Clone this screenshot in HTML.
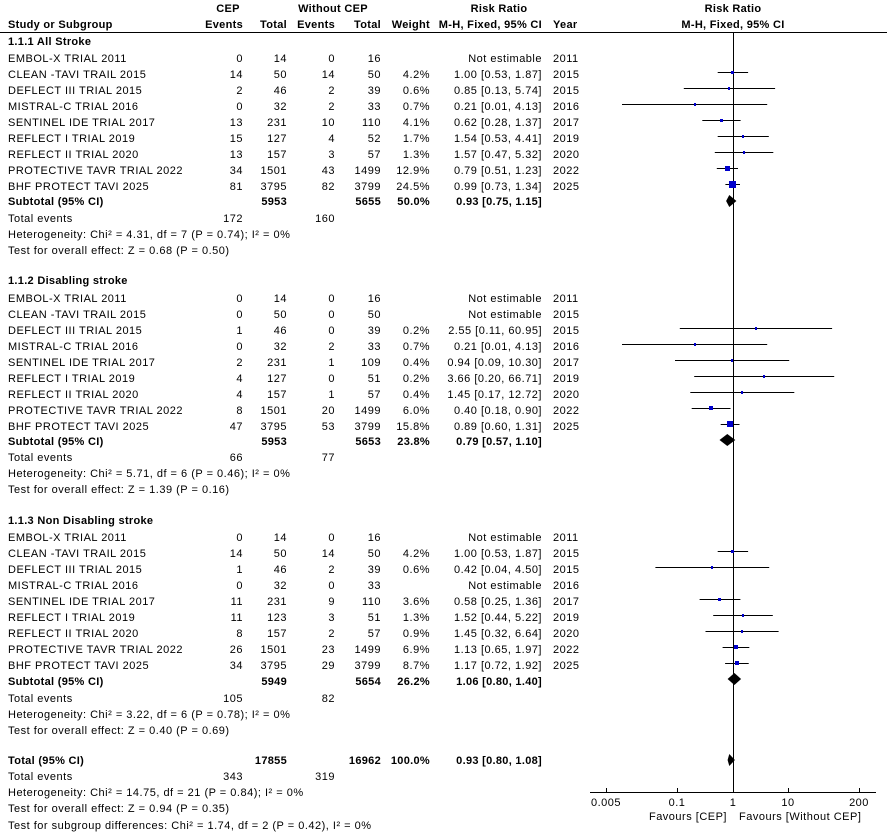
<!DOCTYPE html>
<html><head><meta charset="utf-8"><style>
html,body{margin:0;padding:0;background:#fff;}
svg{display:block;}
text{font-family:"Liberation Sans",Arial,sans-serif;font-size:11px;fill:#000;letter-spacing:0.5px;}
.b{font-weight:bold;letter-spacing:0.3px;}
.e{text-anchor:end;}
.m{text-anchor:middle;}
</style></head><body>
<svg width="887" height="832" viewBox="0 0 887 832" xmlns="http://www.w3.org/2000/svg">
<!-- headers -->
<text class="b m" x="228" y="12">CEP</text>
<text class="b m" x="333" y="12">Without CEP</text>
<text class="b m" x="499" y="12">Risk Ratio</text>
<text class="b m" x="733" y="12">Risk Ratio</text>
<text class="b" x="8" y="28">Study or Subgroup</text>
<text class="b e" x="243" y="28">Events</text>
<text class="b e" x="287" y="28">Total</text>
<text class="b e" x="335" y="28">Events</text>
<text class="b e" x="381" y="28">Total</text>
<text class="b e" x="430" y="28">Weight</text>
<text class="b e" x="542" y="28">M-H, Fixed, 95% CI</text>
<text class="b" x="553" y="28">Year</text>
<text class="b m" x="733" y="28">M-H, Fixed, 95% CI</text>
<line x1="0" y1="32.5" x2="887" y2="32.5" stroke="#000"/>
<line x1="733.5" y1="33" x2="733.5" y2="792" stroke="#000"/>

<!-- Section 1 -->
<text class="b" x="8" y="45">1.1.1 All Stroke</text>
<g>
<text x="8" y="62">EMBOL-X TRIAL 2011</text><text class="e" x="243" y="62">0</text><text class="e" x="287" y="62">14</text><text class="e" x="335" y="62">0</text><text class="e" x="381" y="62">16</text><text class="e" x="542" y="62">Not estimable</text><text x="553" y="62">2011</text>
<text x="8" y="78">CLEAN -TAVI TRAIL 2015</text><text class="e" x="243" y="78">14</text><text class="e" x="287" y="78">50</text><text class="e" x="335" y="78">14</text><text class="e" x="381" y="78">50</text><text class="e" x="430" y="78">4.2%</text><text class="e" x="542" y="78">1.00 [0.53, 1.87]</text><text x="553" y="78">2015</text>
<text x="8" y="94">DEFLECT III TRIAL 2015</text><text class="e" x="243" y="94">2</text><text class="e" x="287" y="94">46</text><text class="e" x="335" y="94">2</text><text class="e" x="381" y="94">39</text><text class="e" x="430" y="94">0.6%</text><text class="e" x="542" y="94">0.85 [0.13, 5.74]</text><text x="553" y="94">2015</text>
<text x="8" y="110">MISTRAL-C TRIAL 2016</text><text class="e" x="243" y="110">0</text><text class="e" x="287" y="110">32</text><text class="e" x="335" y="110">2</text><text class="e" x="381" y="110">33</text><text class="e" x="430" y="110">0.7%</text><text class="e" x="542" y="110">0.21 [0.01, 4.13]</text><text x="553" y="110">2016</text>
<text x="8" y="126">SENTINEL IDE TRIAL 2017</text><text class="e" x="243" y="126">13</text><text class="e" x="287" y="126">231</text><text class="e" x="335" y="126">10</text><text class="e" x="381" y="126">110</text><text class="e" x="430" y="126">4.1%</text><text class="e" x="542" y="126">0.62 [0.28, 1.37]</text><text x="553" y="126">2017</text>
<text x="8" y="142">REFLECT I TRIAL 2019</text><text class="e" x="243" y="142">15</text><text class="e" x="287" y="142">127</text><text class="e" x="335" y="142">4</text><text class="e" x="381" y="142">52</text><text class="e" x="430" y="142">1.7%</text><text class="e" x="542" y="142">1.54 [0.53, 4.41]</text><text x="553" y="142">2019</text>
<text x="8" y="158">REFLECT II TRIAL 2020</text><text class="e" x="243" y="158">13</text><text class="e" x="287" y="158">157</text><text class="e" x="335" y="158">3</text><text class="e" x="381" y="158">57</text><text class="e" x="430" y="158">1.3%</text><text class="e" x="542" y="158">1.57 [0.47, 5.32]</text><text x="553" y="158">2020</text>
<text x="8" y="174">PROTECTIVE TAVR TRIAL 2022</text><text class="e" x="243" y="174">34</text><text class="e" x="287" y="174">1501</text><text class="e" x="335" y="174">43</text><text class="e" x="381" y="174">1499</text><text class="e" x="430" y="174">12.9%</text><text class="e" x="542" y="174">0.79 [0.51, 1.23]</text><text x="553" y="174">2022</text>
<text x="8" y="190">BHF PROTECT TAVI 2025</text><text class="e" x="243" y="190">81</text><text class="e" x="287" y="190">3795</text><text class="e" x="335" y="190">82</text><text class="e" x="381" y="190">3799</text><text class="e" x="430" y="190">24.5%</text><text class="e" x="542" y="190">0.99 [0.73, 1.34]</text><text x="553" y="190">2025</text>
<text class="b" x="8" y="205">Subtotal (95% CI)</text><text class="b e" x="287" y="205">5953</text><text class="b e" x="381" y="205">5655</text><text class="b e" x="430" y="205">50.0%</text><text class="b e" x="542" y="205">0.93 [0.75, 1.15]</text>
<text x="8" y="222">Total events</text><text class="e" x="243" y="222">172</text><text class="e" x="335" y="222">160</text>
<text x="8" y="238">Heterogeneity: Chi² = 4.31, df = 7 (P = 0.74); I² = 0%</text>
<text x="8" y="254">Test for overall effect: Z = 0.68 (P = 0.50)</text>
</g>
<g stroke="#000" stroke-width="1">
<line x1="717.7" y1="72.5" x2="748.1" y2="72.5"/>
<line x1="683.8" y1="88.5" x2="775.1" y2="88.5"/>
<line x1="622" y1="104.5" x2="767.2" y2="104.5"/>
<line x1="702.3" y1="120.5" x2="740.6" y2="120.5"/>
<line x1="717.7" y1="136.5" x2="768.8" y2="136.5"/>
<line x1="714.8" y1="152.5" x2="773.3" y2="152.5"/>
<line x1="716.8" y1="168.5" x2="738" y2="168.5"/>
<line x1="725.4" y1="184.5" x2="740" y2="184.5"/>
</g>
<g fill="#0000cc">
<rect x="731" y="71" width="3" height="3"/>
<rect x="728" y="87" width="2" height="3"/>
<rect x="694" y="103" width="2" height="3"/>
<rect x="720" y="119" width="3" height="3"/>
<rect x="742" y="135" width="2" height="3"/>
<rect x="743" y="151" width="2" height="3"/>
<rect x="725" y="166" width="5" height="5"/>
<rect x="729" y="181" width="7" height="7"/>
</g>
<polygon points="726.1,201 729.3,195 736.4,201 729.3,207" fill="#000"/>

<!-- Section 2 -->
<text class="b" x="8" y="284">1.1.2 Disabling stroke</text>
<g>
<text x="8" y="302">EMBOL-X TRIAL 2011</text><text class="e" x="243" y="302">0</text><text class="e" x="287" y="302">14</text><text class="e" x="335" y="302">0</text><text class="e" x="381" y="302">16</text><text class="e" x="542" y="302">Not estimable</text><text x="553" y="302">2011</text>
<text x="8" y="318">CLEAN -TAVI TRAIL 2015</text><text class="e" x="243" y="318">0</text><text class="e" x="287" y="318">50</text><text class="e" x="335" y="318">0</text><text class="e" x="381" y="318">50</text><text class="e" x="542" y="318">Not estimable</text><text x="553" y="318">2015</text>
<text x="8" y="334">DEFLECT III TRIAL 2015</text><text class="e" x="243" y="334">1</text><text class="e" x="287" y="334">46</text><text class="e" x="335" y="334">0</text><text class="e" x="381" y="334">39</text><text class="e" x="430" y="334">0.2%</text><text class="e" x="542" y="334">2.55 [0.11, 60.95]</text><text x="553" y="334">2015</text>
<text x="8" y="350">MISTRAL-C TRIAL 2016</text><text class="e" x="243" y="350">0</text><text class="e" x="287" y="350">32</text><text class="e" x="335" y="350">2</text><text class="e" x="381" y="350">33</text><text class="e" x="430" y="350">0.7%</text><text class="e" x="542" y="350">0.21 [0.01, 4.13]</text><text x="553" y="350">2016</text>
<text x="8" y="366">SENTINEL IDE TRIAL 2017</text><text class="e" x="243" y="366">2</text><text class="e" x="287" y="366">231</text><text class="e" x="335" y="366">1</text><text class="e" x="381" y="366">109</text><text class="e" x="430" y="366">0.4%</text><text class="e" x="542" y="366">0.94 [0.09, 10.30]</text><text x="553" y="366">2017</text>
<text x="8" y="382">REFLECT I TRIAL 2019</text><text class="e" x="243" y="382">4</text><text class="e" x="287" y="382">127</text><text class="e" x="335" y="382">0</text><text class="e" x="381" y="382">51</text><text class="e" x="430" y="382">0.2%</text><text class="e" x="542" y="382">3.66 [0.20, 66.71]</text><text x="553" y="382">2019</text>
<text x="8" y="398">REFLECT II TRIAL 2020</text><text class="e" x="243" y="398">4</text><text class="e" x="287" y="398">157</text><text class="e" x="335" y="398">1</text><text class="e" x="381" y="398">57</text><text class="e" x="430" y="398">0.4%</text><text class="e" x="542" y="398">1.45 [0.17, 12.72]</text><text x="553" y="398">2020</text>
<text x="8" y="414">PROTECTIVE TAVR TRIAL 2022</text><text class="e" x="243" y="414">8</text><text class="e" x="287" y="414">1501</text><text class="e" x="335" y="414">20</text><text class="e" x="381" y="414">1499</text><text class="e" x="430" y="414">6.0%</text><text class="e" x="542" y="414">0.40 [0.18, 0.90]</text><text x="553" y="414">2022</text>
<text x="8" y="430">BHF PROTECT TAVI 2025</text><text class="e" x="243" y="430">47</text><text class="e" x="287" y="430">3795</text><text class="e" x="335" y="430">53</text><text class="e" x="381" y="430">3799</text><text class="e" x="430" y="430">15.8%</text><text class="e" x="542" y="430">0.89 [0.60, 1.31]</text><text x="553" y="430">2025</text>
<text class="b" x="8" y="445">Subtotal (95% CI)</text><text class="b e" x="287" y="445">5953</text><text class="b e" x="381" y="445">5653</text><text class="b e" x="430" y="445">23.8%</text><text class="b e" x="542" y="445">0.79 [0.57, 1.10]</text>
<text x="8" y="461">Total events</text><text class="e" x="243" y="461">66</text><text class="e" x="335" y="461">77</text>
<text x="8" y="477">Heterogeneity: Chi² = 5.71, df = 6 (P = 0.46); I² = 0%</text>
<text x="8" y="493">Test for overall effect: Z = 1.39 (P = 0.16)</text>
</g>
<g stroke="#000">
<line x1="679.8" y1="328.5" x2="832.1" y2="328.5"/>
<line x1="622" y1="344.5" x2="767.2" y2="344.5"/>
<line x1="675" y1="360.5" x2="789.2" y2="360.5"/>
<line x1="694.2" y1="376.5" x2="834.2" y2="376.5"/>
<line x1="690.3" y1="392.5" x2="794.3" y2="392.5"/>
<line x1="691.7" y1="408.5" x2="730.5" y2="408.5"/>
<line x1="720.7" y1="424.5" x2="739.5" y2="424.5"/>
</g>
<g fill="#0000cc">
<rect x="755" y="327" width="2" height="3"/>
<rect x="694" y="343" width="2" height="3"/>
<rect x="731" y="359" width="2" height="3"/>
<rect x="763" y="375" width="2" height="3"/>
<rect x="741" y="391" width="2" height="3"/>
<rect x="709" y="406" width="4" height="4"/>
<rect x="727" y="421" width="6" height="6"/>
</g>
<polygon points="719.5,440 727.3,434 735.3,440 727.3,446" fill="#000"/>

<!-- Section 3 -->
<text class="b" x="8" y="524">1.1.3 Non Disabling stroke</text>
<g>
<text x="8" y="541">EMBOL-X TRIAL 2011</text><text class="e" x="243" y="541">0</text><text class="e" x="287" y="541">14</text><text class="e" x="335" y="541">0</text><text class="e" x="381" y="541">16</text><text class="e" x="542" y="541">Not estimable</text><text x="553" y="541">2011</text>
<text x="8" y="557">CLEAN -TAVI TRAIL 2015</text><text class="e" x="243" y="557">14</text><text class="e" x="287" y="557">50</text><text class="e" x="335" y="557">14</text><text class="e" x="381" y="557">50</text><text class="e" x="430" y="557">4.2%</text><text class="e" x="542" y="557">1.00 [0.53, 1.87]</text><text x="553" y="557">2015</text>
<text x="8" y="573">DEFLECT III TRIAL 2015</text><text class="e" x="243" y="573">1</text><text class="e" x="287" y="573">46</text><text class="e" x="335" y="573">2</text><text class="e" x="381" y="573">39</text><text class="e" x="430" y="573">0.6%</text><text class="e" x="542" y="573">0.42 [0.04, 4.50]</text><text x="553" y="573">2015</text>
<text x="8" y="589">MISTRAL-C TRIAL 2016</text><text class="e" x="243" y="589">0</text><text class="e" x="287" y="589">32</text><text class="e" x="335" y="589">0</text><text class="e" x="381" y="589">33</text><text class="e" x="542" y="589">Not estimable</text><text x="553" y="589">2016</text>
<text x="8" y="605">SENTINEL IDE TRIAL 2017</text><text class="e" x="243" y="605">11</text><text class="e" x="287" y="605">231</text><text class="e" x="335" y="605">9</text><text class="e" x="381" y="605">110</text><text class="e" x="430" y="605">3.6%</text><text class="e" x="542" y="605">0.58 [0.25, 1.36]</text><text x="553" y="605">2017</text>
<text x="8" y="621">REFLECT I TRIAL 2019</text><text class="e" x="243" y="621">11</text><text class="e" x="287" y="621">123</text><text class="e" x="335" y="621">3</text><text class="e" x="381" y="621">51</text><text class="e" x="430" y="621">1.3%</text><text class="e" x="542" y="621">1.52 [0.44, 5.22]</text><text x="553" y="621">2019</text>
<text x="8" y="637">REFLECT II TRIAL 2020</text><text class="e" x="243" y="637">8</text><text class="e" x="287" y="637">157</text><text class="e" x="335" y="637">2</text><text class="e" x="381" y="637">57</text><text class="e" x="430" y="637">0.9%</text><text class="e" x="542" y="637">1.45 [0.32, 6.64]</text><text x="553" y="637">2020</text>
<text x="8" y="653">PROTECTIVE TAVR TRIAL 2022</text><text class="e" x="243" y="653">26</text><text class="e" x="287" y="653">1501</text><text class="e" x="335" y="653">23</text><text class="e" x="381" y="653">1499</text><text class="e" x="430" y="653">6.9%</text><text class="e" x="542" y="653">1.13 [0.65, 1.97]</text><text x="553" y="653">2022</text>
<text x="8" y="669">BHF PROTECT TAVI 2025</text><text class="e" x="243" y="669">34</text><text class="e" x="287" y="669">3795</text><text class="e" x="335" y="669">29</text><text class="e" x="381" y="669">3799</text><text class="e" x="430" y="669">8.7%</text><text class="e" x="542" y="669">1.17 [0.72, 1.92]</text><text x="553" y="669">2025</text>
<text class="b" x="8" y="685">Subtotal (95% CI)</text><text class="b e" x="287" y="685">5949</text><text class="b e" x="381" y="685">5654</text><text class="b e" x="430" y="685">26.2%</text><text class="b e" x="542" y="685">1.06 [0.80, 1.40]</text>
<text x="8" y="702">Total events</text><text class="e" x="243" y="702">105</text><text class="e" x="335" y="702">82</text>
<text x="8" y="718">Heterogeneity: Chi² = 3.22, df = 6 (P = 0.78); I² = 0%</text>
<text x="8" y="734">Test for overall effect: Z = 0.40 (P = 0.69)</text>
</g>
<g stroke="#000">
<line x1="717.7" y1="551.5" x2="748.1" y2="551.5"/>
<line x1="655.4" y1="567.5" x2="769.2" y2="567.5"/>
<line x1="699.6" y1="599.5" x2="740.4" y2="599.5"/>
<line x1="713.2" y1="615.5" x2="772.8" y2="615.5"/>
<line x1="705.5" y1="631.5" x2="778.6" y2="631.5"/>
<line x1="722.6" y1="647.5" x2="749.3" y2="647.5"/>
<line x1="725.1" y1="663.5" x2="748.7" y2="663.5"/>
</g>
<g fill="#0000cc">
<rect x="731" y="550" width="3" height="3"/>
<rect x="711" y="566" width="2" height="3"/>
<rect x="718" y="598" width="3" height="3"/>
<rect x="742" y="614" width="2" height="3"/>
<rect x="741" y="630" width="2" height="3"/>
<rect x="734" y="645" width="4" height="4"/>
<rect x="735" y="661" width="4" height="4"/>
</g>
<polygon points="727.6,679 734.4,673 741.1,679 734.4,685" fill="#000"/>

<!-- Total -->
<text class="b" x="8" y="764">Total (95% CI)</text><text class="b e" x="287" y="764">17855</text><text class="b e" x="381" y="764">16962</text><text class="b e" x="430" y="764">100.0%</text><text class="b e" x="542" y="764">0.93 [0.80, 1.08]</text>
<text x="8" y="780">Total events</text><text class="e" x="243" y="780">343</text><text class="e" x="335" y="780">319</text>
<text x="8" y="796">Heterogeneity: Chi² = 14.75, df = 21 (P = 0.84); I² = 0%</text>
<text x="8" y="812">Test for overall effect: Z = 0.94 (P = 0.35)</text>
<text x="8" y="829">Test for subgroup differences: Chi² = 1.74, df = 2 (P = 0.42), I² = 0%</text>
<polygon points="727.6,760 729.3,754 734.9,760 729.3,766" fill="#000"/>

<!-- axis -->
<line x1="590" y1="792.5" x2="876" y2="792.5" stroke="#000"/>
<g stroke="#000">
<line x1="606.5" y1="788" x2="606.5" y2="793"/>
<line x1="677.5" y1="788" x2="677.5" y2="793"/>
<line x1="733.5" y1="788" x2="733.5" y2="793"/>
<line x1="788.5" y1="788" x2="788.5" y2="793"/>
<line x1="859.5" y1="788" x2="859.5" y2="793"/>
</g>
<text class="m" x="606" y="806">0.005</text>
<text class="m" x="677" y="806">0.1</text>
<text class="m" x="733" y="806">1</text>
<text class="m" x="788" y="806">10</text>
<text class="m" x="859" y="806">200</text>
<text class="e" x="727" y="820">Favours [CEP]</text>
<text x="739" y="820">Favours [Without CEP]</text>
</svg>
</body></html>
